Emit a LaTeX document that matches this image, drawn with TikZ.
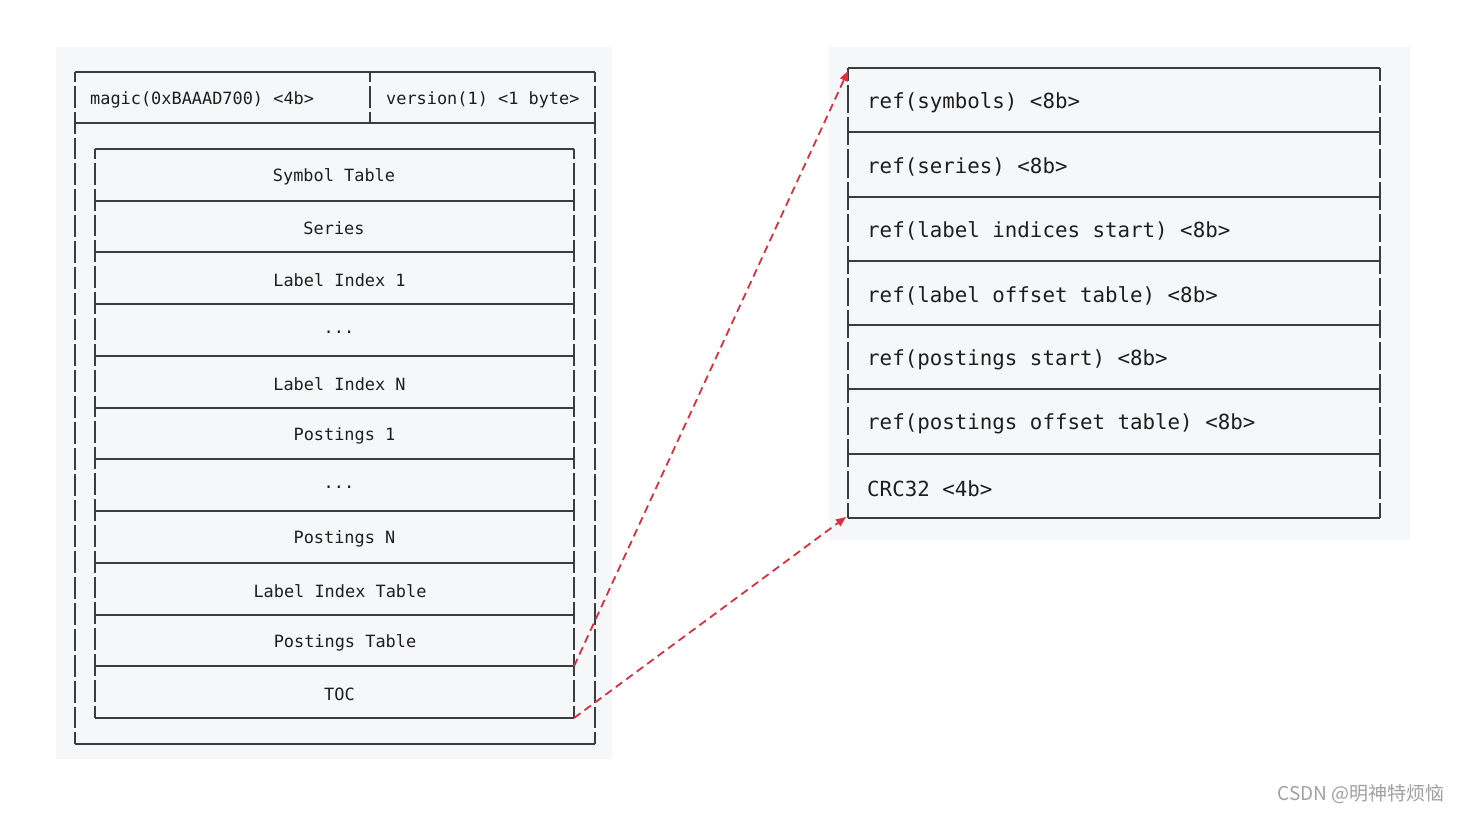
\documentclass[tikz,border=0pt]{standalone}
\usepackage{fontspec}
\setmonofont{DejaVu Sans Mono}
\newfontfamily\cjk{Noto Sans CJK SC}
\usetikzlibrary{arrows.meta}
\definecolor{panelbg}{HTML}{F6F7F8}
\definecolor{linecol}{HTML}{3C3C3C}
\definecolor{txtcol}{HTML}{1E1E1E}
\definecolor{arrowred}{HTML}{D8303F}
\definecolor{wmgray}{HTML}{A0A0A0}
\newcommand\mydots{...}
\begin{document}
\begin{tikzpicture}[x=1pt,y=-1pt,
  hline/.style={linecol, line width=2pt},
  vline/.style={linecol, line width=1.6pt, dash pattern=on 21.86pt off 4pt, dash phase=12pt},
  rvline/.style={linecol, line width=1.6pt, dash pattern=on 28.14pt off 4pt, dash phase=15pt},
  cell/.style={draw=none, inner sep=0pt, outer sep=0pt},
  ltxt/.style={font=\ttfamily\fontsize{16.9}{20}\selectfont, text=txtcol, inner sep=0pt},
  rtxt/.style={font=\ttfamily\fontsize{20.8}{24}\selectfont, text=txtcol, inner sep=0pt, anchor=west},
  link/.style={arrowred, line width=1.8pt, dash pattern=on 8pt off 5pt, -{Triangle[length=10pt,width=8pt]}}
]
\useasboundingbox (0,0) rectangle (1460,814);
\fill[white] (0,0) rectangle (1460,814);
\fill[panelbg] (56,47) rectangle (612,759);
\fill[panelbg] (829,47) rectangle (1410,540);

% ---- left outer box with header ----
\node[cell, minimum width=520pt, minimum height=672pt] (outer) at (335,408) {};
\node[cell, minimum width=520pt, minimum height=51pt] (hdr) at (335,97.5) {};
\coordinate (divtop) at (370,72);
\coordinate (divbot) at (370,123);
\node[ltxt, anchor=west] (magic) at (90,99.5) {magic(0xBAAAD700) <4b>};
\node[ltxt, anchor=west] (version) at (386,99.5) {version(1) <1 byte>};

\draw[hline] (outer.north west) -- (outer.north east);
\draw[hline] (hdr.south west) -- (hdr.south east);
\draw[hline] (outer.south west) -- (outer.south east);
\draw[vline] (outer.north west) -- (outer.south west);
\draw[vline] (outer.north east) -- (outer.south east);
\draw[vline] (divtop) -- (divbot);

% ---- left inner rows ----
\foreach \t/\cx [count=\i] in {Symbol Table/334, Series/334, Label Index 1/339.5, \mydots/339,
    Label Index N/339.5, Postings 1/344.5, \mydots/339, Postings N/344.5,
    Label Index Table/340, Postings Table/345, TOC/339.5} {
  \pgfmathsetmacro\cy{149+(\i-0.5)*51.727}
  \node[cell, minimum width=479pt, minimum height=51.727pt] (L\i) at (334.5,\cy) {};
  \node[ltxt] (LT\i) at (\cx,\cy+2) {\t};
}
\draw[hline] (L1.north west) -- (L1.north east);
\foreach \i in {1,2,3,4,5,6,7,8,9,10,11} {
  \draw[hline] (L\i.south west) -- (L\i.south east);
}
\draw[vline] (L1.north west) -- (L11.south west);
\draw[vline] (L1.north east) -- (L11.south east);

% ---- right box ----
\foreach \t [count=\i] in {ref(symbols) <8b>, ref(series) <8b>, ref(label indices start) <8b>,
    ref(label offset table) <8b>, ref(postings start) <8b>, ref(postings offset table) <8b>,
    CRC32 <4b>} {
  \pgfmathsetmacro\cy{68+(\i-0.5)*64.286}
  \node[cell, minimum width=532pt, minimum height=64.286pt] (R\i) at (1114,\cy) {};
  \node[rtxt] (RT\i) at (867,\cy+2.5) {\t};
}
\draw[hline] (R1.north west) -- (R1.north east);
\foreach \i in {1,2,3,4,5,6,7} {
  \draw[hline] (R\i.south west) -- (R\i.south east);
}
\draw[rvline] (R1.north west) -- (R7.south west);
\draw[rvline] (R1.north east) -- (R7.south east);

% ---- links ----
\draw[link] (L10.south east) -- ([yshift=-3pt]R1.north west);
\draw[link] (L11.south east) -- ([xshift=-2pt,yshift=1pt]R7.south west);

% ---- watermark ----
\node[font=\cjk\fontsize{19}{22}\selectfont, text=wmgray, anchor=east, inner sep=0pt] (wm) at (1445,794) {CSDN @明神特烦恼};
\end{tikzpicture}
\end{document}
